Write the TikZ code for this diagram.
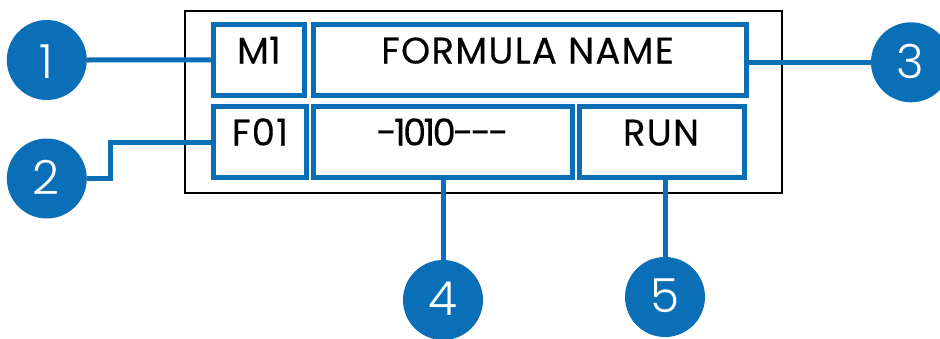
\documentclass[tikz,border=0pt]{standalone}
\usepackage{fontspec}
\setmainfont{Poppins}[Ligatures=NoCommon,LetterSpace=3.5,FakeBold=0.25]
\newfontfamily\numfont{Poppins Light}
\definecolor{brandblue}{HTML}{0B6FB8}
\tikzset{
  field/.style={draw=brandblue,line width=5pt,inner sep=0pt,outer sep=0pt,rectangle},
  frame/.style={draw=black,line width=2.4pt,inner sep=0pt,outer sep=0pt,rectangle},
  badge/.style={circle,fill=brandblue,draw=none,minimum size=80pt,inner sep=0pt,outer sep=0pt},
  badgenum/.style={text=white,inner sep=0pt,anchor=base,font=\numfont\fontsize{47}{47}\selectfont},
  conn/.style={draw=brandblue,line width=5pt},
  lab/.style={text=black,inner sep=0pt,anchor=base,font=\fontsize{37}{37}\selectfont}
}
\begin{document}
\begin{tikzpicture}[x=1pt,y=-1pt]
\useasboundingbox (0,0) rectangle (940,338);
\node[frame,minimum width=596.5pt,minimum height=182pt] (panel) at (483.5,102) {};
\node[field,minimum width=90.8pt,minimum height=71pt] (m1) at (258.9,59.8) {};
\node[field,minimum width=433.3pt,minimum height=71pt] (fn) at (530.2,59.8) {};
\node[field,minimum width=92.7pt,minimum height=70.7pt] (f01) at (259.85,142.15) {};
\node[field,minimum width=259pt,minimum height=70.7pt] (val) at (443,142.15) {};
\node[field,minimum width=165pt,minimum height=70.7pt] (run) at (662,142.15) {};
\node[lab] (tm1) at (259,63.5) {\addfontfeature{LetterSpace=0}M1};
\node[lab] (tfn) at (527.5,63.5) {FORMULA NAME};
\node[lab] (tf01) at (260,145.5) {F01};
\node[lab] (tval) at (442.5,145.5) {\addfontfeature{LetterSpace=-7.5}-1010{-}{-}{-}};
\node[lab] (trun) at (661,145.5) {RUN};
\node[badge] (c1) at (46.8,60) {};
\node[badge] (c2) at (46.8,178.5) {};
\node[badge] (c3) at (911,62.3) {};
\node[badge] (c4) at (443,300) {};
\node[badge] (c5) at (665,297) {};
\coordinate (bend) at (110.7,142.15);
\draw[conn] (c1.east) -- (m1.west);
\draw[conn] (c2.east) -| (bend) -- (f01.west);
\draw[conn] (c3.west) -- (c3.west -| fn.east);
\draw[conn] (val.south) -- (c4.north);
\draw[conn] (c5.north) -- (c5.north |- run.south);
\node[badgenum] (n1) at (46.8,78) {1};
\node[badgenum] (n2) at (46.2,194.3) {2};
\node[badgenum] (n3) at (910,78) {3};
\node[badgenum] (n4) at (443,315) {4};
\node[badgenum] (n5) at (665,312.7) {5};
\end{tikzpicture}
\end{document}
